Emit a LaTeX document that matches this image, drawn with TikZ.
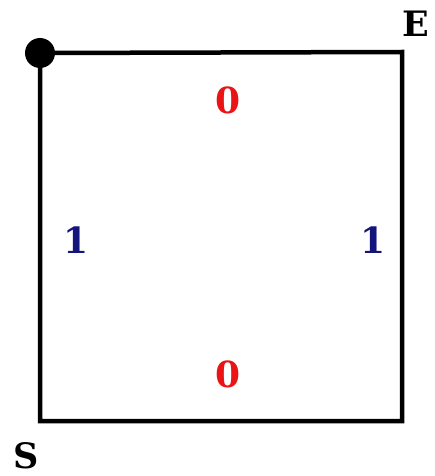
\documentclass[tikz,border=0pt]{standalone}
\usepackage{xcolor}
\usepackage{fontspec}
\setmainfont{DejaVu Serif}
\usetikzlibrary{positioning}
\definecolor{zred}{RGB}{235,20,20}
\definecolor{oblue}{RGB}{20,20,125}
\begin{document}
\begin{tikzpicture}[x=1pt,y=-1pt, edge/.style={line width=4.5pt,line join=miter}, zlbl/.style={text=zred,font=\fontsize{36}{36}\selectfont\bfseries,inner sep=0pt}, olbl/.style={text=oblue,font=\fontsize{36}{36}\selectfont\bfseries,inner sep=0pt}, clbl/.style={font=\fontsize{35}{35}\selectfont\bfseries,inner sep=0pt}]
\useasboundingbox (0,0) rectangle (434,476);
\coordinate (tl) at (40,53);
\coordinate (tr) at (402,52);
\coordinate (br) at (402,421);
\coordinate (bl) at (40,421);
\draw[edge] (tl)--(tr)--(br)--(bl)--cycle;
\fill (tl) circle (15);
\node[clbl] (end) at (416,24) {E};
\node[clbl] (start) at (26,456) {S};
\node[zlbl] (top) at (228,100) {0};
\node[zlbl] (bottom) at (228,374) {0};
\node[olbl] (left) at (76,240) {1};
\node[olbl] (right) at (373,240) {1};
\end{tikzpicture}
\end{document}
